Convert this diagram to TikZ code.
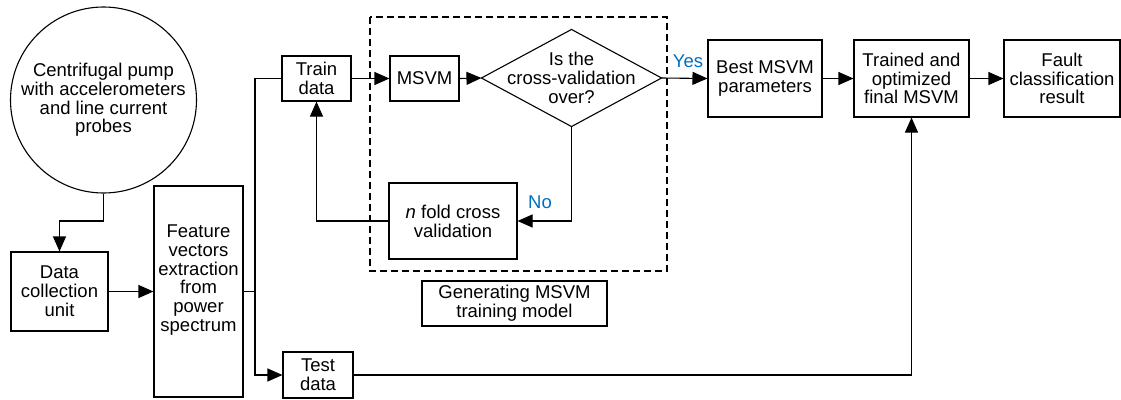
\documentclass[tikz,border=0pt]{standalone}
\usepackage{fontspec}
\setmainfont{Liberation Sans}
\usetikzlibrary{arrows.meta}
\definecolor{labelblue}{RGB}{0,112,192}
\tikzset{
  every node/.style={font=\fontsize{18.5}{18.8}\selectfont},
  box/.style={draw, rectangle, inner sep=0pt, align=center},
  plain/.style={inner sep=0pt, align=center},
  wire/.style={line width=1.1pt},
  arr/.style={wire, -{Triangle[length=15pt,width=13pt]}},
  decision/.style={blue, font=\fontsize{18.5}{18.8}\selectfont}
}
\begin{document}
\begin{tikzpicture}[x=1pt,y=-1pt, line width=1.1pt]
\useasboundingbox (0,0) rectangle (1121,399);

% acquisition and preprocessing
\node[box, circle, minimum size=186pt] (pump) at (103.5,100)
  {Centrifugal pump\\with accelerometers\\and line current\\probes};
\node[box, minimum width=97pt, minimum height=79pt] (dcu) at (59.5,291.5)
  {Data\\collection\\unit};
\node[box, minimum width=89pt, minimum height=211pt] (feat) at (198.5,291.5) {};
\node[plain] (feattxt) at (198.5,280)
  {Feature\\vectors\\extraction\\from\\power\\spectrum};

% data split
\node[box, minimum width=69pt, minimum height=45pt] (train) at (316.5,78.5) {Train\\data};
\node[box, minimum width=70pt, minimum height=46pt] (test) at (318,375) {Test\\data};

% MSVM training loop
\draw[dashed, dash pattern=on 7pt off 4pt] (370,17) rectangle (667,271);
\node[box, minimum width=69pt, minimum height=45pt] (msvm) at (424.5,78.5) {MSVM};
\node[plain, minimum width=179pt, minimum height=96pt] (dec) at (571.5,78)
  {Is the\\cross-validation\\over?};
\draw (dec.west) -- (dec.north) -- (dec.east) -- (dec.south) -- cycle;
\node[box, minimum width=128pt, minimum height=76pt] (nfold) at (453,221)
  {\textit{n} fold cross\\validation};
\node[box, minimum width=185pt, minimum height=45pt] (gen) at (514.5,303.5)
  {Generating MSVM\\training model};

% final stages
\node[box, minimum width=114pt, minimum height=77pt] (best) at (765,78.5)
  {Best MSVM\\parameters};
\node[box, minimum width=115pt, minimum height=77pt] (trained) at (911.5,78.5)
  {Trained and\\optimized\\final MSVM};
\node[box, minimum width=116pt, minimum height=77pt] (fault) at (1062,78.5)
  {Fault\\classification\\result};

% connectors
\coordinate (j1) at (103.5,221);
\draw[arr] (pump.south) -- (j1) -| (dcu.north);
\draw[arr] (dcu.east) -- (feat.west);
\coordinate (sp) at (255,291.5);
\draw[wire] (feat.east) -- (sp);
\draw[wire] (sp) |- (train.west);
\draw[arr] (sp) |- (test.west);
\draw[arr] (train.east) -- (msvm.west);
\draw[arr] (msvm.east) -- (dec.west);
\draw[arr] (dec.east) -- (best.west);
\node[plain, text=labelblue] (yes) at (688,61) {Yes};
\draw[arr] (dec.south) |- (nfold.east);
\node[plain, text=labelblue] (no) at (540,202) {No};
\draw[arr] (nfold.west) -| (train.south);
\draw[arr] (best.east) -- (trained.west);
\draw[arr] (trained.east) -- (fault.west);
\draw[arr] (test.east) -| (trained.south);
\end{tikzpicture}
\end{document}
